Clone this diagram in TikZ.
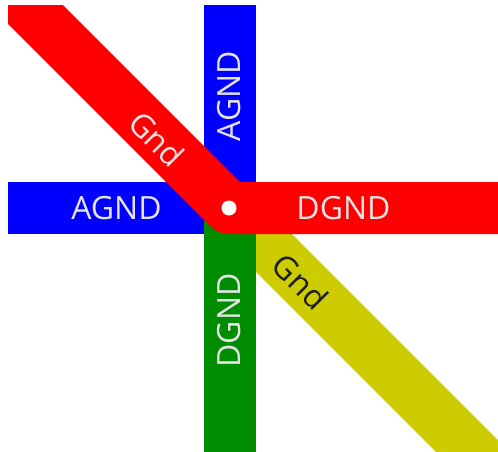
\documentclass[tikz,border=0pt]{standalone}
\usepackage{fontspec}
\setmainfont{Open Sans}
\definecolor{bandred}{RGB}{255,0,0}
\definecolor{bandblue}{RGB}{0,0,255}
\definecolor{bandgreen}{RGB}{0,140,0}
\definecolor{bandyellow}{RGB}{204,204,0}
\definecolor{lighttxt}{RGB}{228,228,228}
\definecolor{darktxt}{RGB}{30,30,30}
\tikzset{
  band/.style={line width=52pt, line cap=butt},
  lbl/.style={inner sep=0pt, text height=22.8pt, text depth=0pt, anchor=center,
    font=\fontsize{32}{32}\selectfont, text=lighttxt},
}
\begin{document}
\begin{tikzpicture}[x=1pt,y=-1pt]
\useasboundingbox (0,0) rectangle (498,452);
\coordinate (c) at (229,208);
\coordinate (cv) at (230,208);
\coordinate (top) at (230,-20);
\coordinate (left) at (-20,208);
\coordinate (bottom) at (230,480);
\coordinate (right) at (530,208);
\coordinate (ul) at (-71,-92);
\coordinate (lr) at (529,508);
\begin{scope}
\clip (8,6) rectangle (498,452);
\draw[band, bandblue] (top) -- (cv);
\draw[band, bandblue] (left) -- (c);
\draw[band, bandyellow] (c) -- (lr);
\draw[band, bandgreen] (cv) -- (bottom);
\draw[band, bandred, line join=round] (ul) -- (c) -- (right);
\end{scope}
\fill[white] (c) circle (7.5);
\node[lbl, rotate=90] (agndv) at (229.5,96) {AGND};
\node[lbl] (agndh) at (116.5,208.5) {AGND};
\node[lbl] (dgndh) at (343.5,208.5) {DGND};
\node[lbl, rotate=90] (dgndv) at (229.5,320.5) {DGND};
\node[lbl, rotate=-45] (gndr) at (156.5,139.5) {Gnd};
\node[lbl, rotate=-45, text=darktxt] (gndy) at (300,282) {Gnd};
\end{tikzpicture}
\end{document}
